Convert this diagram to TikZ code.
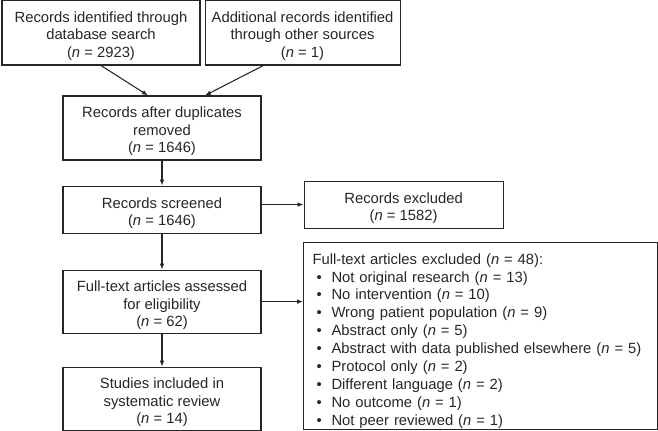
\documentclass[tikz,border=0pt]{standalone}
\usepackage{fontspec}
\setmainfont{Liberation Sans}
\usetikzlibrary{arrows.meta,positioning,calc}

\newcommand{\itm}{\makebox[14.25pt][l]{\hspace{3pt}•}}
\newcommand{\topgap}{\rule{0pt}{13.5pt}}

\begin{document}
\begin{tikzpicture}[x=0.75pt,y=0.75pt,>={Latex[length=4.5pt,width=3.5pt]},line width=0.8pt,color=black!85]
\tikzstyle{box}=[draw, align=center, minimum width=148.5pt, inner sep=0pt, font=\fontsize{11.1}{13.1}\selectfont]
\useasboundingbox (0,0) rectangle (658,-431);
\node[box, minimum height=48.75pt] (search) at (101,-32.5) {\topgap Records identified through\\database search\\(\textit{n} = 2923)};
\node[box, minimum width=146.25pt, minimum height=48.75pt, right=3pt of search] (other) {\topgap Additional records identified\\through other sources\\(\textit{n} = 1)};
\node[box, minimum height=48pt] (dedup) at (162,-128) {\topgap Records after duplicates\\removed\\(\textit{n} = 1646)};
\node[box, minimum height=35.25pt, below=18.75pt of dedup] (screen) {\topgap Records screened\\(\textit{n} = 1646)};
\node[box, minimum height=47.25pt, below=27pt of screen] (full) {\topgap Full-text articles assessed\\for eligibility\\(\textit{n} = 62)};
\node[box, minimum height=47.25pt, below=24.75pt of full] (incl) {\topgap Studies included in\\systematic review\\(\textit{n} = 14)};
\node[box, minimum width=149.25pt, minimum height=35.25pt, right=31.5pt of screen, yshift=3.75pt] (excl) {\topgap Records excluded\\(\textit{n} = 1582)};
\node[draw, align=left, anchor=north west, minimum width=265.5pt, minimum height=140.25pt, inner xsep=6.75pt, inner ysep=0pt, text width=252pt, font=\fontsize{11.1}{13.45}\selectfont] (fexcl) at (303,-242) {\rule{0pt}{15.5pt}Full-text articles excluded (\textit{n} = 48):\\
\itm Not original research (\textit{n} = 13)\\
\itm No intervention (\textit{n} = 10)\\
\itm Wrong patient population (\textit{n} = 9)\\
\itm Abstract only (\textit{n} = 5)\\
\itm Abstract with data published elsewhere (\textit{n} = 5)\\
\itm Protocol only (\textit{n} = 2)\\
\itm Different language (\textit{n} = 2)\\
\itm No outcome (\textit{n} = 1)\\
\itm Not peer reviewed (\textit{n} = 1)};
\draw[->] (search.south) -- ($(dedup.north)+(-14,0)$);
\draw[->] ($(other.south west)!0.3!(other.south east)$) -- ($(dedup.north)+(43,0)$);
\draw[->] (dedup) -- (screen);
\draw[->] (screen) -- (full);
\draw[->] (full) -- (incl);
\draw[->] (screen.east |- excl.west) -- (excl.west);
\draw[->] (full.east) -- (fexcl.west |- full.east);
\end{tikzpicture}
\end{document}
